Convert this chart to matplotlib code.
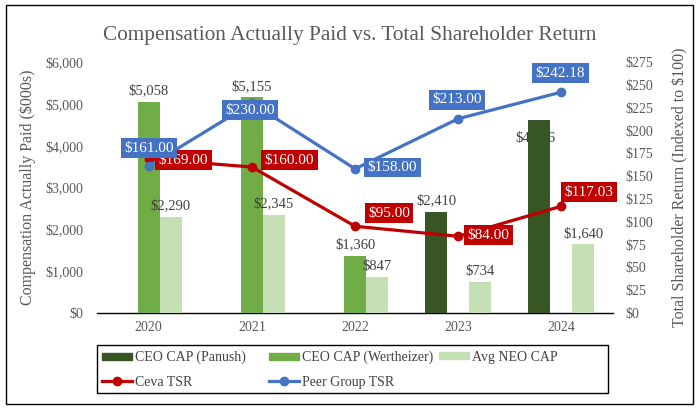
import matplotlib
matplotlib.use("Agg")
import matplotlib.pyplot as plt
from matplotlib.patches import Rectangle
from matplotlib.lines import Line2D
import numpy as np

years = ["2020", "2021", "2022", "2023", "2024"]
cap_panush = [0, 0, 0, 2410, 4616]
cap_wertheizer = [5058, 5155, 1360, 0, 0]
cap_neo = [2290, 2345, 847, 734, 1640]
ceva_tsr = [169.00, 160.00, 95.00, 84.00, 117.03]
peer_tsr = [161.00, 230.00, 158.00, 213.00, 242.18]

c_pan = "#375623"
c_wer = "#70AD47"
c_neo = "#C5E0B4"
c_ceva = "#C00000"
c_peer = "#4472C4"
gray = "#595959"

plt.rcParams['font.family'] = ['Liberation Serif', 'DejaVu Serif']

fig = plt.figure(figsize=(6.99, 4.09), dpi=100)
ax = fig.add_axes([0.139, 0.235, 0.738, 0.613])
ax2 = ax.twinx()

x = np.arange(len(years))
w = 0.213

def draw_bars(vals, off, col):
    for xi, v in zip(x, vals):
        if v > 0:
            ax.bar(xi + off, v, w, color=col, zorder=3)

draw_bars(cap_panush, -w, c_pan)
draw_bars(cap_wertheizer, 0, c_wer)
draw_bars(cap_neo, w, c_neo)

# bar labels
for vals, off in [(cap_panush, -w), (cap_wertheizer, 0), (cap_neo, w)]:
    for xi, v in zip(x, vals):
        if v <= 0:
            continue
        if v == 4616:
            ax.text(xi + off - 0.04, v - 430, "${:,}".format(v), ha='center', va='center',
                    fontsize=10.5, color="#404040", zorder=2)
        else:
            ax.text(xi + off, v + 110, "${:,}".format(v), ha='center', va='bottom',
                    fontsize=10.5, color="#404040", zorder=4)

ax.set_xlim(-0.5, 4.5)
ax.set_ylim(0, 6000)
ax.set_yticks(range(0, 6001, 1000))
ax.set_yticklabels(["${:,}".format(v) for v in range(0, 6001, 1000)])
ax.set_xticks(x)
ax.set_xticklabels(years)

ax2.set_ylim(0, 275)
ax2.set_yticks(range(0, 276, 25))
ax2.set_yticklabels(["${}".format(v) for v in range(0, 276, 25)])

for a in (ax, ax2):
    for s in ("top", "left", "right"):
        a.spines[s].set_visible(False)
    a.spines["bottom"].set_color("black")
    a.spines["bottom"].set_linewidth(1.0)
    a.tick_params(axis='both', length=0, labelsize=10, labelcolor=gray)
ax2.spines["bottom"].set_visible(False)
ax.tick_params(axis='y', pad=10)
ax.tick_params(axis='x', pad=6)
ax2.tick_params(axis='y', pad=9)

ax.set_ylabel("Compensation Actually Paid ($000s)", fontsize=11.5, color=gray)
ax2.set_ylabel("Total Shareholder Return (Indexed to $100)", fontsize=11.5, color=gray)
ax.yaxis.set_label_coords(-0.118, 0.5)
ax2.yaxis.set_label_coords(1.114, 0.5)

ax2.plot(x, ceva_tsr, color=c_ceva, lw=2.3, marker='o', ms=6, zorder=5)
ax2.plot(x, peer_tsr, color=c_peer, lw=2.3, marker='o', ms=6, zorder=5)

# TSR labels: offsets in points (dx, dy)
ceva_off = [(25, -1), (27, 5), (24.5, 9.5), (21.6, 0.7), (20, 10)]
peer_off = [(0, 13), (-1.5, -5), (27, 1), (-0.7, 13.7), (-0.7, 13.7)]
for vals, offs, col, z in [(ceva_tsr, ceva_off, c_ceva, 6), (peer_tsr, peer_off, c_peer, 7)]:
    for xi, v, (dx, dy) in zip(x, vals, offs):
        ax2.annotate("${:.2f}".format(v), (xi, v), xytext=(dx, dy), textcoords='offset points',
                     ha='center', va='center', fontsize=11, color='white', zorder=z,
                     bbox=dict(boxstyle='square,pad=0.22', fc=col, ec='none'))

fig.suptitle("Compensation Actually Paid vs. Total Shareholder Return", x=0.5, y=0.937,
             fontsize=15.3, color=gray)

# legend: three single-column legends placed at fixed columns, plus a frame
leg_groups = [
    (0.146, [Rectangle((0, 0), 1, 1, color=c_pan),
             Line2D([], [], color=c_ceva, lw=2.3, marker='o', ms=6)],
     ["CEO CAP (Panush)", "Ceva TSR"]),
    (0.385, [Rectangle((0, 0), 1, 1, color=c_wer),
             Line2D([], [], color=c_peer, lw=2.3, marker='o', ms=6)],
     ["CEO CAP (Wertheizer)", "Peer Group TSR"]),
    (0.628, [Rectangle((0, 0), 1, 1, color=c_neo)],
     ["Avg NEO CAP"]),
]
for x0, hs, ls in leg_groups:
    lg = fig.legend(hs, ls, loc='upper left', bbox_to_anchor=(x0, 0.142),
                    fontsize=10, frameon=False, handlelength=2.15, handleheight=0.4,
                    handletextpad=0.2, borderpad=0, labelspacing=0.8, borderaxespad=0)
    for t in lg.get_texts():
        t.set_color("#404040")

fig.patches.append(Rectangle((0.1388, 0.0391), 0.731, 0.1174, transform=fig.transFigure,
                             fill=False, ec='black', lw=1.0))

fig.patches.append(Rectangle((0.008, 0.012), 0.984, 0.976, transform=fig.transFigure,
                             fill=False, ec='black', lw=1.0))

fig.savefig("out.png", dpi=100)
